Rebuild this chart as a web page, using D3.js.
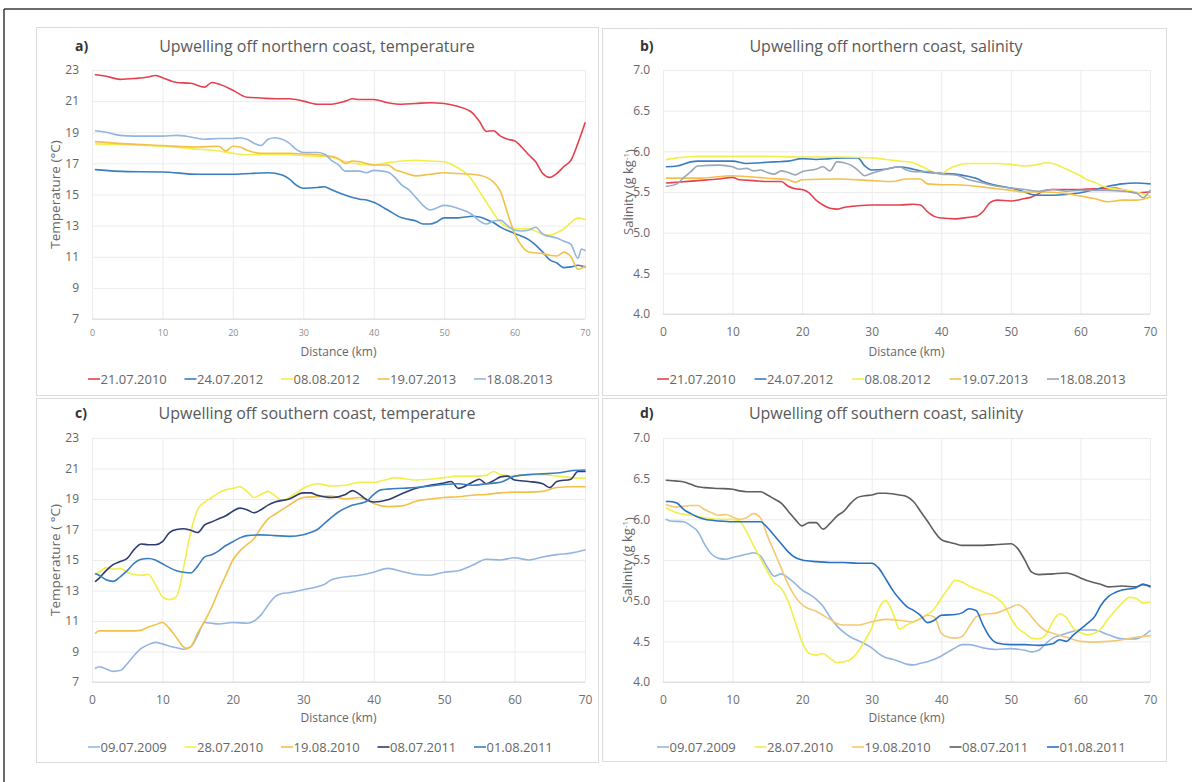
<!DOCTYPE html>
<html>
<head>
<meta charset="utf-8">
<script src="https://cdn.jsdelivr.net/npm/d3@7/dist/d3.min.js"></script>
<style>
  html, body { margin: 0; padding: 0; background: #fff; }
  svg { display: block; }
  text { font-family: "Open Sans", Lato, sans-serif; }
</style>
</head>
<body>
<svg id="fig" width="1192" height="782"></svg>
<script>
// ---- shared axis values ----
const distanceTicks = [0, 10, 20, 30, 40, 50, 60, 70];
const temperatureTicks = [7, 9, 11, 13, 15, 17, 19, 21, 23];
const salinityTicks = [4.0, 4.5, 5.0, 5.5, 6.0, 6.5, 7.0];

const northDates = ["21.07.2010", "24.07.2012", "08.08.2012", "19.07.2013", "18.08.2013"];
const southDates = ["09.07.2009", "28.07.2010", "19.08.2010", "08.07.2011", "01.08.2011"];

// ---- a) northern coast, temperature (°C) : [distance km, value] ----
const tempN_20100721 = [[0.5,22.7],[2,22.6],[4,22.4],[6,22.45],[8,22.55],[9,22.65],[10,22.5],[12,22.2],[14,22.15],[16,21.9],[17,22.2],[18,22.1],[20,21.7],[22,21.25],[24,21.2],[26,21.15],[28,21.15],[30,21.0],[32,20.8],[34,20.8],[36,21.0],[37,21.15],[38,21.1],[40,21.1],[42,20.9],[44,20.8],[46,20.85],[48,20.9],[50,20.85],[52,20.65],[54,20.25],[55,19.7],[56,19.05],[57,19.1],[58,18.75],[59,18.55],[60,18.45],[61,18.05],[62,17.55],[63,17.1],[64,16.35],[65,16.1],[66,16.35],[67,16.8],[68,17.2],[69,18.3],[70,19.6]];
const tempN_20120724 = [[0.5,16.6],[5,16.47],[10,16.45],[15,16.3],[20,16.3],[25,16.4],[27,16.25],[28,16.0],[29,15.6],[30,15.4],[32,15.45],[33,15.5],[34,15.3],[36,14.95],[38,14.7],[39,14.65],[40,14.5],[42,14.0],[44,13.5],[45,13.4],[46,13.3],[47,13.1],[48,13.1],[49,13.25],[50,13.5],[52,13.5],[54,13.6],[55,13.55],[56,13.4],[57,13.2],[58,12.9],[60,12.5],[62,12.1],[63,11.75],[64,11.3],[65,10.8],[66,10.6],[67,10.3],[68,10.35],[69,10.45],[70,10.35]];
const tempN_20120808 = [[0.5,18.25],[5,18.2],[10,18.1],[14,17.95],[18,17.8],[20,17.65],[22,17.55],[25,17.55],[28,17.55],[30,17.5],[32,17.45],[34,17.4],[36,17.1],[38,16.95],[40,16.9],[42,17.05],[44,17.15],[46,17.2],[48,17.15],[50,17.1],[51,16.95],[52,16.7],[53,16.4],[54,15.9],[55,15.2],[56,14.5],[57,13.8],[58,13.2],[59,12.9],[60,12.8],[62,12.8],[64,12.45],[65,12.4],[66,12.55],[67,12.8],[68,13.2],[69,13.5],[70,13.4]];
const tempN_20130719 = [[0.5,18.4],[5,18.25],[10,18.15],[15,18.05],[18,18.1],[19,17.8],[20,18.1],[21,18.05],[22,17.85],[24,17.65],[26,17.65],[28,17.65],[30,17.6],[32,17.55],[34,17.45],[35,17.3],[36,17.0],[37,17.15],[38,17.1],[40,16.9],[42,16.9],[43,16.6],[44,16.45],[46,16.2],[48,16.3],[50,16.4],[52,16.35],[54,16.3],[56,16.1],[57,15.8],[58,15.2],[59,13.8],[60,12.5],[61,11.7],[62,11.3],[64,11.2],[65,11.1],[66,11.05],[67,11.3],[68,11.0],[69,10.2],[70,10.4]];
const tempN_20130818 = [[0.5,19.1],[2,19.0],[4,18.8],[6,18.75],[10,18.75],[12,18.8],[14,18.7],[16,18.55],[18,18.6],[20,18.6],[21,18.65],[22,18.55],[23,18.3],[24,18.15],[25,18.55],[26,18.65],[27,18.55],[28,18.3],[29,17.9],[30,17.7],[32,17.7],[33,17.6],[34,17.2],[35,16.9],[36,16.5],[38,16.5],[39,16.4],[40,16.55],[42,16.45],[43,16.1],[44,15.6],[45,15.3],[46,14.8],[47,14.3],[48,14.0],[49,14.15],[50,14.3],[51,14.25],[52,14.1],[54,13.7],[55,13.3],[56,13.1],[57,13.3],[58,13.35],[59,13.0],[60,12.7],[61,12.65],[62,12.7],[63,12.9],[64,12.45],[66,12.2],[67,12.0],[68,11.8],[69,10.9],[69.5,11.5],[70,11.4]];

// ---- b) northern coast, salinity (g kg-1) ----
const salN_20100721 = [[0.5,5.61],[2,5.62],[5,5.64],[8,5.66],[10,5.68],[11,5.65],[13,5.64],[15,5.63],[17,5.63],[18,5.57],[19,5.54],[20,5.53],[21,5.49],[22,5.4],[23,5.34],[24,5.3],[25,5.29],[26,5.31],[28,5.33],[30,5.34],[32,5.34],[34,5.34],[36,5.35],[37,5.34],[38,5.26],[39,5.2],[40,5.18],[42,5.17],[44,5.19],[45,5.2],[46,5.26],[47,5.37],[48,5.4],[50,5.39],[52,5.42],[53,5.44],[54,5.48],[55,5.52],[56,5.53],[58,5.53],[60,5.53],[62,5.54],[64,5.54],[65,5.55],[66,5.53],[68,5.49],[70,5.5]];
const salN_20120724 = [[0.5,5.81],[2,5.82],[4,5.87],[5,5.88],[8,5.88],[10,5.88],[12,5.85],[14,5.86],[16,5.87],[18,5.88],[20,5.91],[22,5.9],[24,5.91],[26,5.92],[28,5.92],[29,5.82],[30,5.77],[32,5.78],[34,5.81],[36,5.78],[38,5.74],[40,5.73],[42,5.72],[44,5.69],[45,5.67],[46,5.63],[48,5.58],[50,5.55],[52,5.5],[53,5.47],[54,5.46],[56,5.46],[58,5.47],[60,5.49],[62,5.53],[64,5.57],[66,5.6],[68,5.61],[70,5.6]];
const salN_20120808 = [[0.5,5.9],[2,5.92],[5,5.94],[10,5.94],[15,5.94],[20,5.93],[25,5.93],[30,5.92],[32,5.9],[34,5.88],[36,5.86],[37,5.82],[38,5.78],[39,5.74],[40,5.72],[41,5.78],[42,5.82],[44,5.85],[46,5.85],[48,5.85],[50,5.84],[52,5.82],[54,5.84],[55,5.86],[56,5.85],[58,5.78],[60,5.7],[61,5.65],[62,5.62],[63,5.58],[64,5.55],[66,5.53],[68,5.5],[70,5.45]];
const salN_20130719 = [[0.5,5.67],[5,5.67],[10,5.7],[12,5.69],[15,5.67],[18,5.65],[19,5.62],[20,5.65],[25,5.66],[30,5.64],[33,5.63],[35,5.66],[37,5.66],[38,5.6],[40,5.59],[42,5.59],[44,5.58],[46,5.56],[48,5.54],[50,5.52],[52,5.5],[55,5.5],[58,5.48],[60,5.45],[62,5.42],[64,5.38],[66,5.4],[68,5.4],[70,5.44]];
const salN_20130818 = [[0.5,5.57],[2,5.6],[3,5.68],[4,5.75],[5,5.82],[8,5.83],[10,5.81],[11,5.78],[12,5.79],[13,5.76],[14,5.77],[15,5.74],[16,5.72],[17,5.76],[18,5.74],[19,5.71],[20,5.75],[22,5.78],[23,5.81],[24,5.76],[25,5.87],[26,5.86],[27,5.83],[28,5.77],[29,5.7],[30,5.73],[32,5.78],[34,5.81],[35,5.77],[36,5.75],[38,5.75],[40,5.72],[42,5.71],[44,5.65],[46,5.61],[48,5.57],[50,5.55],[52,5.53],[54,5.51],[56,5.53],[58,5.51],[60,5.52],[62,5.52],[64,5.52],[66,5.51],[68,5.49],[69,5.43],[70,5.52]];

// ---- c) southern coast, temperature (°C) ----
const tempS_20090709 = [[0.5,7.9],[1,8.0],[2,7.85],[3,7.7],[4,7.75],[5,8.2],[6,8.75],[7,9.2],[8,9.45],[9,9.6],[10,9.5],[11,9.35],[12,9.25],[13,9.15],[14,9.3],[15,10.05],[16,10.9],[17,10.85],[18,10.8],[20,10.9],[22,10.85],[23,11.0],[24,11.4],[25,12.05],[26,12.6],[27,12.8],[28,12.85],[30,13.05],[32,13.25],[33,13.4],[34,13.7],[36,13.9],[38,14.0],[40,14.2],[42,14.45],[44,14.25],[46,14.05],[48,14.0],[50,14.2],[52,14.3],[54,14.65],[56,15.05],[58,15.0],[60,15.15],[62,15.0],[64,15.2],[66,15.35],[68,15.45],[70,15.65]];
const tempS_20100728 = [[0.5,14.1],[1,14.2],[2,14.5],[3,14.4],[4,14.45],[5,14.2],[6,14.05],[7,14.0],[8,14.05],[9,13.4],[10,12.6],[11,12.4],[12,12.6],[13,14.5],[14,16.8],[15,18.3],[16,18.8],[17,19.1],[18,19.4],[19,19.6],[20,19.7],[21,19.8],[22,19.5],[23,19.1],[24,19.3],[25,19.5],[26,19.2],[27,18.9],[28,19.1],[29,19.4],[30,19.7],[31,19.9],[32,20.0],[34,19.85],[36,19.9],[38,20.1],[40,20.1],[42,20.3],[43,20.4],[44,20.35],[46,20.25],[48,20.3],[50,20.4],[52,20.5],[54,20.5],[56,20.55],[57,20.8],[58,20.6],[60,20.5],[62,20.6],[64,20.6],[66,20.5],[68,20.4],[70,20.35]];
const tempS_20100819 = [[0.5,10.2],[1,10.35],[2,10.35],[4,10.35],[6,10.35],[7,10.4],[8,10.6],[9,10.75],[10,10.9],[11,10.5],[12,9.9],[13,9.3],[13.5,9.2],[14,9.3],[15,10.2],[16,11.0],[17,11.9],[18,13.0],[19,14.0],[20,15.0],[21,15.6],[22,16.0],[23,16.4],[24,17.1],[25,17.7],[26,18.0],[27,18.3],[28,18.6],[29,18.9],[30,19.1],[32,19.15],[34,19.2],[36,19.0],[38,19.1],[39,18.95],[40,18.7],[42,18.5],[44,18.55],[46,18.85],[48,19.0],[50,19.1],[52,19.15],[54,19.25],[56,19.3],[58,19.4],[60,19.45],[62,19.45],[64,19.5],[66,19.75],[68,19.8],[70,19.8]];
const tempS_20110708 = [[0.5,13.6],[1,13.8],[2,14.3],[3,14.7],[4,14.9],[5,15.1],[6,15.7],[7,16.05],[8,16.0],[9,16.0],[10,16.2],[11,16.8],[12,17.0],[13,17.05],[14,16.95],[15,16.8],[16,17.3],[17,17.5],[18,17.7],[19,17.9],[20,18.2],[21,18.4],[22,18.3],[23,18.1],[24,18.3],[25,18.6],[26,18.8],[28,19.0],[30,19.4],[31,19.4],[32,19.25],[34,19.1],[36,19.3],[37,19.55],[38,19.3],[39,18.95],[40,18.8],[42,18.95],[44,19.35],[46,19.7],[48,19.9],[50,20.05],[51,20.15],[52,19.7],[54,20.1],[55,20.3],[56,20.0],[57,20.2],[58,20.45],[59,20.5],[60,20.25],[62,20.15],[64,20.0],[65,19.75],[66,20.15],[68,20.3],[69,20.8],[70,20.8]];
const tempS_20110801 = [[0.5,14.1],[1,14.0],[2,13.7],[3,13.6],[4,13.9],[5,14.3],[6,14.8],[7,15.05],[8,15.1],[9,15.0],[10,14.75],[11,14.5],[12,14.3],[13,14.2],[14,14.15],[15,14.6],[16,15.2],[17,15.35],[18,15.6],[19,15.95],[20,16.2],[21,16.45],[22,16.6],[24,16.65],[26,16.6],[28,16.55],[30,16.65],[31,16.8],[32,17.0],[33,17.4],[34,17.8],[35,18.15],[36,18.4],[37,18.6],[38,18.7],[39,18.85],[40,19.3],[41,19.6],[42,19.65],[44,19.7],[46,19.75],[48,19.85],[50,19.95],[52,20.0],[54,19.9],[56,20.0],[58,20.1],[60,20.5],[62,20.6],[64,20.65],[66,20.7],[68,20.85],[70,20.9]];

// ---- d) southern coast, salinity (g kg-1) ----
const salS_20090709 = [[0.5,6.0],[1,5.98],[3,5.97],[4,5.92],[5,5.85],[6,5.69],[7,5.57],[8,5.52],[9,5.51],[10,5.53],[12,5.57],[13,5.59],[14,5.55],[15,5.41],[16,5.3],[17,5.33],[18,5.28],[19,5.21],[20,5.13],[21,5.08],[22,5.02],[23,4.93],[24,4.8],[25,4.69],[26,4.61],[27,4.55],[28,4.51],[29,4.47],[30,4.42],[31,4.35],[32,4.3],[33,4.28],[34,4.25],[35,4.22],[36,4.21],[37,4.23],[38,4.25],[39,4.28],[40,4.32],[41,4.37],[42,4.42],[43,4.46],[44,4.46],[46,4.42],[48,4.4],[50,4.41],[52,4.39],[53,4.37],[54,4.39],[55,4.47],[56,4.54],[57,4.57],[58,4.6],[60,4.64],[62,4.64],[64,4.58],[66,4.53],[68,4.53],[70,4.63]];
const salS_20100728 = [[0.5,6.14],[2,6.08],[4,6.05],[6,6.02],[8,6.0],[10,6.0],[11,5.98],[12,5.85],[13,5.68],[14,5.52],[15,5.36],[16,5.22],[17,5.15],[18,4.99],[19,4.74],[20,4.49],[21,4.35],[22,4.33],[23,4.35],[24,4.29],[25,4.24],[26,4.25],[27,4.28],[28,4.37],[29,4.51],[30,4.66],[31,4.9],[32,5.0],[33,4.86],[34,4.65],[35,4.7],[36,4.74],[37,4.78],[38,4.83],[39,4.9],[40,5.03],[41,5.15],[42,5.25],[43,5.23],[44,5.18],[46,5.11],[48,5.03],[49,4.95],[50,4.79],[51,4.66],[52,4.6],[53,4.54],[54,4.53],[55,4.58],[56,4.74],[57,4.84],[58,4.79],[59,4.66],[60,4.61],[61,4.58],[62,4.6],[63,4.66],[64,4.78],[65,4.88],[66,4.97],[67,5.04],[68,5.03],[69,4.97],[70,4.98]];
const salS_20100819 = [[0.5,6.18],[2,6.15],[4,6.17],[5,6.17],[6,6.12],[7,6.08],[8,6.05],[9,6.06],[10,6.03],[11,6.0],[12,6.02],[13,6.07],[14,6.02],[15,5.8],[16,5.6],[17,5.4],[18,5.2],[19,5.05],[20,4.95],[21,4.9],[22,4.87],[23,4.82],[24,4.77],[25,4.72],[26,4.7],[28,4.7],[30,4.74],[32,4.77],[34,4.76],[36,4.74],[37,4.78],[38,4.82],[39,4.8],[40,4.6],[41,4.55],[42,4.54],[43,4.56],[44,4.68],[45,4.8],[46,4.83],[48,4.85],[50,4.92],[51,4.95],[52,4.9],[53,4.8],[54,4.7],[55,4.63],[56,4.6],[58,4.55],[60,4.5],[62,4.49],[64,4.5],[66,4.52],[68,4.55],[70,4.57]];
const salS_20110708 = [[0.5,6.48],[2,6.47],[3,6.46],[4,6.43],[5,6.4],[6,6.39],[8,6.38],[10,6.37],[11,6.35],[12,6.34],[14,6.34],[15,6.3],[16,6.25],[17,6.2],[18,6.1],[19,6.0],[20,5.92],[21,5.96],[22,5.96],[23,5.88],[24,5.95],[25,6.04],[26,6.1],[27,6.2],[28,6.27],[29,6.29],[30,6.3],[31,6.32],[32,6.32],[34,6.3],[35,6.28],[36,6.22],[37,6.1],[38,5.98],[39,5.85],[40,5.75],[41,5.72],[42,5.7],[43,5.68],[44,5.68],[46,5.68],[48,5.69],[50,5.7],[51,5.64],[52,5.5],[53,5.35],[54,5.32],[56,5.33],[58,5.34],[59,5.32],[60,5.28],[62,5.22],[63,5.2],[64,5.17],[66,5.18],[68,5.17],[69,5.2],[70,5.17]];
const salS_20110801 = [[0.5,6.22],[1,6.22],[2,6.2],[3,6.12],[4,6.07],[5,6.03],[6,6.0],[8,5.98],[10,5.97],[12,5.97],[14,5.97],[15,5.9],[16,5.8],[17,5.7],[18,5.6],[19,5.53],[20,5.5],[22,5.48],[24,5.47],[26,5.47],[28,5.46],[30,5.46],[31,5.4],[32,5.27],[33,5.13],[34,5.02],[35,4.93],[36,4.88],[37,4.82],[38,4.73],[39,4.76],[40,4.82],[42,4.83],[43,4.85],[44,4.9],[45,4.88],[46,4.7],[47,4.55],[48,4.48],[50,4.46],[52,4.46],[54,4.45],[56,4.47],[57,4.52],[58,4.5],[59,4.58],[60,4.65],[61,4.72],[62,4.8],[63,4.95],[64,5.05],[65,5.1],[66,5.13],[68,5.16],[69,5.2],[70,5.18]];

// ---- line colours ----
const RED = "#e5404f", BLUE = "#3a7dc0", YELLOW = "#f2ee4a", GOLD = "#f3c04a",
      LIGHTBLUE = "#93b6e0", NAVY = "#2d3d70", GREYBLUE = "#9aa6b6", DARKGREY = "#5e5e5e",
      BLUE2 = "#2a71c4", GOLD2 = "#f5c872";

const panels = [
  { tag: "a)", title: "Upwelling off northern coast, temperature",
    box: [36, 27, 598, 395], plot: [92, 70, 585, 319],
    domain: [7, 23], ticks: temperatureTicks, fmt: d3.format("d"),
    yTitle: "Temperature (°C)", yTitleX: 55, xTickSize: 9, xTickColor: "#8c8c8c",
    xTickY: 333, xTitleY: 352, legendY: 379, legendX: 88, legendStep: 96.5,
    tagX: 75, titleX: 317, titleY: 46,
    dates: northDates,
    series: [tempN_20100721, tempN_20120724, tempN_20120808, tempN_20130719, tempN_20130818],
    colors: [RED, BLUE, YELLOW, GOLD, LIGHTBLUE] },
  { tag: "b)", title: "Upwelling off northern coast, salinity",
    box: [602, 28, 1166, 395], plot: [663, 70, 1150, 314],
    domain: [4, 7], ticks: salinityTicks, fmt: d3.format(".1f"),
    yTitle: "salinity", yTitleX: 628, xTickSize: 12, xTickColor: "#6e6e6e",
    xTickY: 332, xTitleY: 352, legendY: 379, legendX: 657, legendStep: 97.5,
    tagX: 640, titleX: 886, titleY: 46,
    dates: northDates,
    series: [salN_20100721, salN_20120724, salN_20120808, salN_20130719, salN_20130818],
    colors: [RED, BLUE, YELLOW, GOLD, GREYBLUE] },
  { tag: "c)", title: "Upwelling off southern coast, temperature",
    box: [36, 398, 598, 762], plot: [92, 438, 585, 682],
    domain: [7, 23], ticks: temperatureTicks, fmt: d3.format("d"),
    yTitle: "Temperature ( °C)", yTitleX: 55, xTickSize: 12, xTickColor: "#6e6e6e",
    xTickY: 700, xTitleY: 718, legendY: 747, legendX: 88, legendStep: 96.5,
    tagX: 75, titleX: 317, titleY: 413,
    dates: southDates,
    series: [tempS_20090709, tempS_20100728, tempS_20100819, tempS_20110708, tempS_20110801],
    colors: [LIGHTBLUE, YELLOW, GOLD, NAVY, BLUE] },
  { tag: "d)", title: "Upwelling off southern coast, salinity",
    box: [602, 398, 1166, 761], plot: [663, 438, 1150, 682],
    domain: [4, 7], ticks: salinityTicks, fmt: d3.format(".1f"),
    yTitle: "salinity", yTitleX: 627, xTickSize: 12, xTickColor: "#6e6e6e",
    xTickY: 700, xTitleY: 718, legendY: 747, legendX: 657, legendStep: 97.5,
    tagX: 640, titleX: 886, titleY: 413,
    dates: southDates,
    series: [salS_20090709, salS_20100728, salS_20100819, salS_20110708, salS_20110801],
    colors: [LIGHTBLUE, YELLOW, GOLD2, DARKGREY, BLUE2] }
];

const svg = d3.select("#fig");

// figure frame (top and left rules)
svg.append("line").attr("x1", 4).attr("x2", 1192).attr("y1", 9).attr("y2", 9)
  .attr("stroke", "#3a3a3a").attr("stroke-width", 1.5);
svg.append("line").attr("x1", 4).attr("x2", 4).attr("y1", 9).attr("y2", 782)
  .attr("stroke", "#3a3a3a").attr("stroke-width", 1.5);

panels.forEach(p => {
  const g = svg.append("g");
  const [bx0, by0, bx1, by1] = p.box;
  const [px0, py0, px1, py1] = p.plot;

  g.append("rect").attr("x", bx0 + 0.5).attr("y", by0 + 0.5)
    .attr("width", bx1 - bx0).attr("height", by1 - by0)
    .attr("fill", "#fff").attr("stroke", "#dcdcdc").attr("stroke-width", 1);

  const x = d3.scaleLinear().domain([0, 70]).range([px0, px1]);
  const y = d3.scaleLinear().domain(p.domain).range([py1, py0]);

  // gridlines
  g.append("g").attr("transform", `translate(0,${py1})`)
    .call(d3.axisBottom(x).tickValues(distanceTicks).tickSize(-(py1 - py0)).tickFormat(""))
    .call(a => a.select(".domain").remove())
    .call(a => a.selectAll("line").attr("stroke", "#ececec"));
  g.append("g").attr("transform", `translate(${px0},0)`)
    .call(d3.axisLeft(y).tickValues(p.ticks).tickSize(-(px1 - px0)).tickFormat(""))
    .call(a => a.select(".domain").remove())
    .call(a => a.selectAll("line").attr("stroke", "#ececec"));
  g.append("line").attr("x1", px0).attr("x2", px1).attr("y1", py1).attr("y2", py1)
    .attr("stroke", "#dadada");

  // tick labels
  const yAx = g.append("g").attr("transform", `translate(${px0 - 13},0)`)
    .call(d3.axisLeft(y).tickValues(p.ticks).tickSize(0).tickPadding(0).tickFormat(p.fmt));
  yAx.select(".domain").remove();
  yAx.selectAll("text").attr("font-size", 12).attr("fill", "#666")
    .attr("font-family", "'Open Sans', sans-serif");

  const xAx = g.append("g").attr("transform", `translate(0,${p.xTickY})`)
    .call(d3.axisBottom(x).tickValues(distanceTicks).tickSize(0).tickPadding(0));
  xAx.select(".domain").remove();
  xAx.selectAll("text").attr("dy", "0.35em").attr("font-size", p.xTickSize)
    .attr("fill", p.xTickColor).attr("font-family", "'Open Sans', sans-serif");

  // titles
  g.append("text").attr("x", p.tagX).attr("y", p.titleY).attr("dy", "0.35em")
    .attr("font-size", 14).attr("font-weight", 700).attr("fill", "#333").text(p.tag);
  g.append("text").attr("x", p.titleX).attr("y", p.titleY).attr("dy", "0.35em")
    .attr("text-anchor", "middle").attr("font-size", 16).attr("fill", "#595959").text(p.title);
  g.append("text").attr("x", (px0 + px1) / 2).attr("y", p.xTitleY).attr("dy", "0.35em")
    .attr("text-anchor", "middle").attr("font-size", 12).attr("fill", "#666").text("Distance (km)");

  const cy = (py0 + py1) / 2;
  const yt = g.append("text").attr("transform", `translate(${p.yTitleX},${cy}) rotate(-90)`)
    .attr("dy", "0.35em").attr("text-anchor", "middle").attr("fill", "#666");
  if (p.yTitle === "salinity") {
    yt.attr("font-size", 13).text("Salinity (g kg");
    yt.append("tspan").attr("font-size", 8).attr("dy", "-0.5em").text("-1");
    yt.append("tspan").attr("dy", "0.5em").text(")");
  } else {
    yt.attr("font-size", 13.5).text(p.yTitle);
  }

  // data lines
  const line = d3.line().x(d => x(d[0])).y(d => y(d[1])).curve(d3.curveMonotoneX);
  p.series.forEach((s, i) => {
    g.append("path").datum(s).attr("d", line).attr("fill", "none")
      .attr("stroke", p.colors[i]).attr("stroke-width", 1.6)
      .attr("stroke-linejoin", "round").attr("stroke-linecap", "round");
  });

  // legend
  p.dates.forEach((dt, i) => {
    const lx = p.legendX + i * p.legendStep;
    g.append("line").attr("x1", lx).attr("x2", lx + 12)
      .attr("y1", p.legendY).attr("y2", p.legendY)
      .attr("stroke", p.colors[i]).attr("stroke-width", 1.6);
    g.append("text").attr("x", lx + 12.5).attr("y", p.legendY).attr("dy", "0.35em")
      .attr("font-size", 13).attr("fill", "#666").text(dt);
  });
});
</script>
</body>
</html>
